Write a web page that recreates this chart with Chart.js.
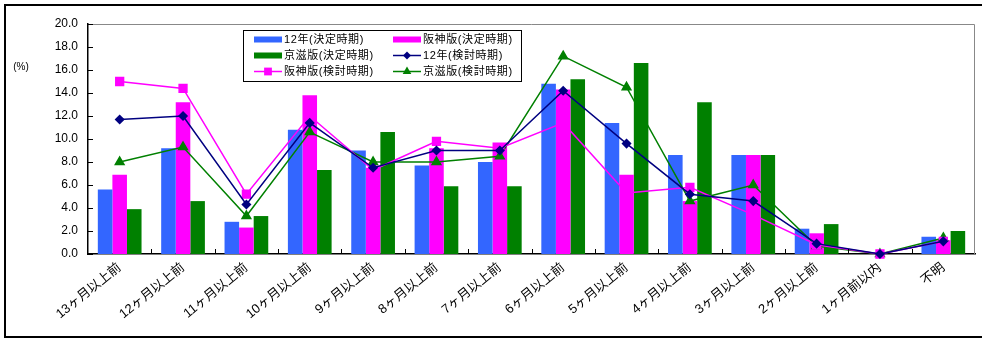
<!DOCTYPE html>
<html>
<head>
<meta charset="utf-8">
<script src="https://cdn.jsdelivr.net/npm/chart.js@4/dist/chart.umd.min.js"></script>
<style>
  html, body { margin: 0; padding: 0; background: #fff; }
  #wrap { position: relative; width: 982px; height: 338px; }
  #frame {
    position: absolute; left: 4px; top: 4px; width: 978px; height: 334px;
    border: 2px solid #000; border-right: none; box-sizing: border-box; pointer-events: none;
  }
</style>
</head>
<body>
<div id="wrap">
  <canvas id="timing-chart" width="982" height="338"></canvas>
  <div id="frame"></div>
</div>
<script>
const categories = ['13ヶ月以上前', '12ヶ月以上前', '11ヶ月以上前', '10ヶ月以上前', '9ヶ月以上前', '8ヶ月以上前',
  '7ヶ月以上前', '6ヶ月以上前', '5ヶ月以上前', '4ヶ月以上前', '3ヶ月以上前', '2ヶ月以上前', '1ヶ月前以内', '不明'];

const seriesNames = ['12年(決定時期)', '阪神版(決定時期)', '京滋版(決定時期)',
  '12年(検討時期)', '阪神版(検討時期)', '京滋版(検討時期)'];

// bars: decided timing
const decided12 = [5.6, 9.2, 2.8, 10.8, 9.0, 7.7, 8.0, 14.8, 11.4, 8.6, 8.6, 2.2, 0.0, 1.5];
const decidedHanshin = [6.9, 13.2, 2.3, 13.8, 7.5, 9.2, 9.7, 14.3, 6.9, 4.6, 8.6, 1.8, 0.0, 1.2];
const decidedKeiji = [3.9, 4.6, 3.3, 7.3, 10.6, 5.9, 5.9, 15.2, 16.6, 13.2, 8.6, 2.6, 0.0, 2.0];

// lines: considered timing
const considered12 = [11.7, 12.0, 4.3, 11.4, 7.5, 9.0, 9.0, 14.2, 9.6, 5.2, 4.6, 0.9, 0.0, 1.1];
const consideredHanshin = [15.0, 14.4, 5.2, 12.0, 7.3, 9.8, 9.2, 11.4, 5.3, 5.8, 3.4, 0.8, 0.0, 1.1];
const consideredKeiji = [8.0, 9.3, 3.3, 10.6, 8.0, 8.0, 8.5, 17.2, 14.5, 4.6, 6.0, 0.7, 0.0, 1.4];

const yTicks = [0, 2, 4, 6, 8, 10, 12, 14, 16, 18, 20];

const FONT = "'Liberation Sans', 'Noto Sans CJK JP', sans-serif";

function barSet(label, data, color) {
  return { type: 'bar', label: label, data: data, backgroundColor: color, borderWidth: 0, order: 2 };
}
function lineSet(label, data, color, style, radius) {
  return {
    type: 'line', label: label, data: data, borderColor: color, backgroundColor: color,
    borderWidth: 1.5, pointStyle: style, pointRadius: radius, pointHoverRadius: radius,
    tension: 0, fill: false, clip: false, order: 1
  };
}

// plot frame, inward tick marks, unit label and boxed legend
const decorations = {
  id: 'decorations',
  afterDraw(chart) {
    const ctx = chart.ctx;
    const a = chart.chartArea;
    const y = chart.scales.y;
    ctx.save();
    ctx.lineWidth = 1;
    ctx.strokeStyle = '#888';
    ctx.beginPath();
    ctx.moveTo(a.left, a.top + 0.5);
    ctx.lineTo(a.right - 0.5, a.top + 0.5);
    ctx.lineTo(a.right - 0.5, a.bottom);
    ctx.stroke();

    ctx.strokeStyle = '#000';
    ctx.beginPath();
    yTicks.forEach(v => {
      const py = Math.round(y.getPixelForValue(v)) + 0.5;
      ctx.moveTo(a.left, py);
      ctx.lineTo(a.left + 5, py);
    });
    const step = (a.right - a.left) / categories.length;
    for (let i = 1; i < categories.length; i++) {
      const px = Math.round(a.left + i * step) + 0.5;
      ctx.moveTo(px, a.bottom);
      ctx.lineTo(px, a.bottom - 5);
    }
    ctx.stroke();

    ctx.fillStyle = '#000';
    ctx.font = '10px ' + FONT;
    ctx.textAlign = 'center';
    ctx.textBaseline = 'middle';
    ctx.fillText('(%)', 21, 67);

    // legend box
    const bx = 243.5, by = 30.5, bw = 278, bh = 51;
    ctx.fillStyle = '#fff';
    ctx.fillRect(bx, by, bw, bh);
    ctx.strokeStyle = '#000';
    ctx.strokeRect(bx, by, bw, bh);
    const colX = [254, 393];
    const rowY = [39.5, 55.5, 71.5];
    ctx.font = '11px ' + FONT;
    ctx.letterSpacing = '0.6px';
    ctx.textAlign = 'left';
    chart.data.datasets.forEach((ds, i) => {
      const sx = colX[i % 2], sy = rowY[Math.floor(i / 2)];
      if (ds.type === 'bar') {
        ctx.fillStyle = ds.backgroundColor;
        ctx.fillRect(sx, sy - 3, 28, 6);
      } else {
        ctx.strokeStyle = ds.borderColor;
        ctx.lineWidth = 1.5;
        ctx.beginPath();
        ctx.moveTo(sx, sy);
        ctx.lineTo(sx + 28, sy);
        ctx.stroke();
        ctx.fillStyle = ds.backgroundColor;
        Chart.helpers.drawPoint(ctx, { pointStyle: ds.pointStyle, radius: ds.pointRadius, borderWidth: 0 }, sx + 14, sy);
      }
      ctx.fillStyle = '#000';
      ctx.fillText(ds.label, sx + 30, sy + 0.5);
    });
    ctx.restore();
  }
};

new Chart(document.getElementById('timing-chart'), {
  data: {
    labels: categories,
    datasets: [
      barSet(seriesNames[0], decided12, '#3366FF'),
      barSet(seriesNames[1], decidedHanshin, '#FF00FF'),
      barSet(seriesNames[2], decidedKeiji, '#008000'),
      lineSet(seriesNames[3], considered12, '#000080', 'rectRot', 4),
      lineSet(seriesNames[4], consideredHanshin, '#FF00FF', 'rect', 5.5),
      lineSet(seriesNames[5], consideredKeiji, '#008000', 'triangle', 5)
    ]
  },
  options: {
    responsive: false,
    animation: false,
    datasets: { bar: { categoryPercentage: 0.69, barPercentage: 1.0 } },
    layout: { padding: { left: 0, top: 24, right: 4, bottom: 0 } },
    plugins: {
      legend: { display: false },
      tooltip: { enabled: false }
    },
    scales: {
      x: {
        grid: { display: false, drawTicks: false },
        border: { color: '#000', width: 1.5 },
        ticks: {
          color: '#000', font: { family: FONT, size: 13 },
          minRotation: 39, maxRotation: 39, autoSkip: false, padding: 6
        },
        afterFit(scale) { scale.height = 84; }
      },
      y: {
        min: 0, max: 20,
        grid: { display: false, drawTicks: false },
        border: { color: '#000', width: 1.5 },
        ticks: {
          stepSize: 2, color: '#000', padding: 10,
          font: { family: FONT, size: 12 },
          callback: v => v.toFixed(1)
        },
        afterFit(scale) { scale.width = 88; }
      }
    }
  },
  plugins: [decorations]
});
</script>
</body>
</html>
